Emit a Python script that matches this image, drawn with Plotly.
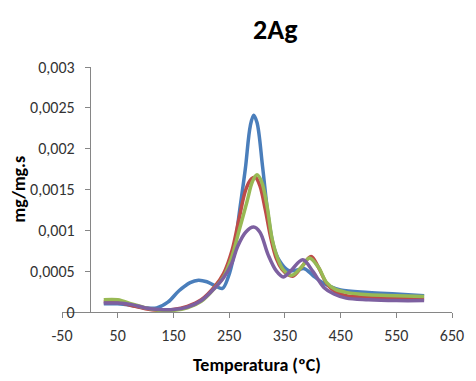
import plotly.graph_objects as go

# ---- data ----
blue_x = [25, 50, 75, 100, 120, 140, 160, 180, 195, 210, 225, 238, 248, 258, 268, 279, 288, 294,
          300, 310, 320, 330, 340, 356, 370, 385, 400, 415, 432, 450, 500, 550, 600]
blue_y = [0.00010, 0.00010, 0.00008, 0.00005, 0.00005, 0.00012, 0.00026, 0.00036, 0.00039, 0.00037,
          0.00032, 0.00029, 0.00042, 0.00068, 0.00120, 0.00175, 0.00228, 0.00241,
          0.00232, 0.00178, 0.00118, 0.00080, 0.00063, 0.00051, 0.00051, 0.00053, 0.00045, 0.00037,
          0.00031, 0.00027, 0.00024, 0.00022, 0.00020]

red_x = [25, 50, 75, 100, 125, 150, 175, 200, 225, 240, 255, 268, 280, 290, 297, 305, 315, 325,
         335, 345, 355, 365, 380, 397, 410, 425, 440, 460, 500, 550, 600]
red_y = [0.000125, 0.00012, 0.00008, 0.00004, 0.00002, 0.00003, 0.00007, 0.00015, 0.00032, 0.00047,
         0.00075, 0.00115, 0.00150, 0.00163, 0.00165, 0.00155, 0.00125, 0.00090, 0.00065, 0.00052,
         0.00046, 0.00044, 0.00055, 0.00068, 0.00055, 0.00035, 0.00025, 0.00020, 0.00018, 0.00017,
         0.00016]

green_x = [25, 50, 75, 100, 125, 150, 175, 200, 225, 240, 255, 268, 282, 292, 300, 308, 318, 327,
           337, 347, 362, 380, 394, 410, 425, 440, 460, 500, 550, 600]
green_y = [0.00015, 0.00015, 0.00010, 0.00005, 0.00002, 0.00002, 0.00005, 0.00013, 0.00030, 0.00043,
           0.00068, 0.00100, 0.00135, 0.00160, 0.00168, 0.00160, 0.00130, 0.00090, 0.00066, 0.00052,
           0.00045, 0.00055, 0.00066, 0.00055, 0.00036, 0.00028, 0.00024, 0.00021, 0.00020, 0.00019]

purple_x = [25, 50, 75, 100, 125, 150, 175, 200, 225, 240, 255, 265, 280, 294, 305, 320, 335, 347,
            360, 382, 400, 420, 438, 460, 500, 550, 600]
purple_y = [0.00011, 0.00011, 0.00009, 0.00005, 0.00003, 0.00003, 0.00006, 0.00014, 0.00030, 0.00042,
            0.00060, 0.00080, 0.00098, 0.00104, 0.00098, 0.00070, 0.00050, 0.00043, 0.00050, 0.00064,
            0.00050, 0.00030, 0.00022, 0.00017, 0.00015, 0.00014, 0.00014]

y_tickvals = [0, 0.0005, 0.001, 0.0015, 0.002, 0.0025, 0.003]
y_ticktext = ["0", "0,0005", "0,001", "0,0015", "0,002", "0,0025", "0,003"]
x_tickvals = [-50, 50, 150, 250, 350, 450, 550, 650]
x_ticktext = ["-50", "50", "150", "250", "350", "450", "550", "650"]

FONT = "Carlito, Lato, 'Liberation Sans', sans-serif"
AXIS_COLOR = "#868686"
TEXT_COLOR = "#333333"

series = [
    (blue_x, blue_y, "#4A7EBB"),
    (red_x, red_y, "#BE4B48"),
    (green_x, green_y, "#98B954"),
    (purple_x, purple_y, "#7D60A0"),
]

fig = go.Figure()
for xs, ys, col in series:
    fig.add_trace(go.Scatter(
        x=xs, y=ys, mode="lines",
        line=dict(color=col, width=3.5, shape="spline", smoothing=1.0),
        showlegend=False, hoverinfo="skip",
    ))

# page has an 8px body margin, so the figure is 8px smaller and shifted
W, H = 468, 373
L, T, R, B = 54, 59, 18, 69
plot_w = W - L - R

fig.update_layout(
    width=W, height=H,
    margin=dict(l=L, r=R, t=T, b=B),
    paper_bgcolor="white", plot_bgcolor="white",
    font=dict(family=FONT, size=16, color=TEXT_COLOR),
    showlegend=False,
    xaxis=dict(
        range=[-50, 650], tickvals=x_tickvals, ticktext=x_ticktext,
        showgrid=False, zeroline=False, showline=True, linecolor=AXIS_COLOR, linewidth=1,
        ticks="outside", ticklen=5, tickcolor=AXIS_COLOR, tickwidth=1,
        tickfont=dict(family=FONT, size=16, color=TEXT_COLOR),
        ticklabelstandoff=4,
    ),
    yaxis=dict(
        range=[0, 0.003], tickvals=y_tickvals, ticktext=y_ticktext,
        anchor="free", position=50 / 700,
        showgrid=False, zeroline=False, showline=True, linecolor=AXIS_COLOR, linewidth=1,
        ticks="outside", ticklen=5, tickcolor=AXIS_COLOR, tickwidth=1,
        tickfont=dict(family=FONT, size=16, color=TEXT_COLOR),
        ticklabelstandoff=7,
    ),
    annotations=[
        dict(text="<b>2Ag</b>", x=(278 - 8 - L) / plot_w, y=1, xref="paper", yref="paper",
             xanchor="center", yanchor="middle", yshift=38, showarrow=False,
             font=dict(family=FONT, size=28, color="#000000")),
        dict(text="<b>Temperatura (ºC)</b>", x=0.5, y=0, xref="paper", yref="paper",
             xanchor="center", yanchor="middle", yshift=-53, showarrow=False,
             font=dict(family=FONT, size=18, color="#000000")),
        dict(text="<b>mg/mg.s</b>", x=0, y=0.5, xref="paper", yref="paper",
             xanchor="center", yanchor="middle", xshift=-44, textangle=-90, showarrow=False,
             font=dict(family=FONT, size=18, color="#000000")),
    ],
)

fig.write_html("out.html")
